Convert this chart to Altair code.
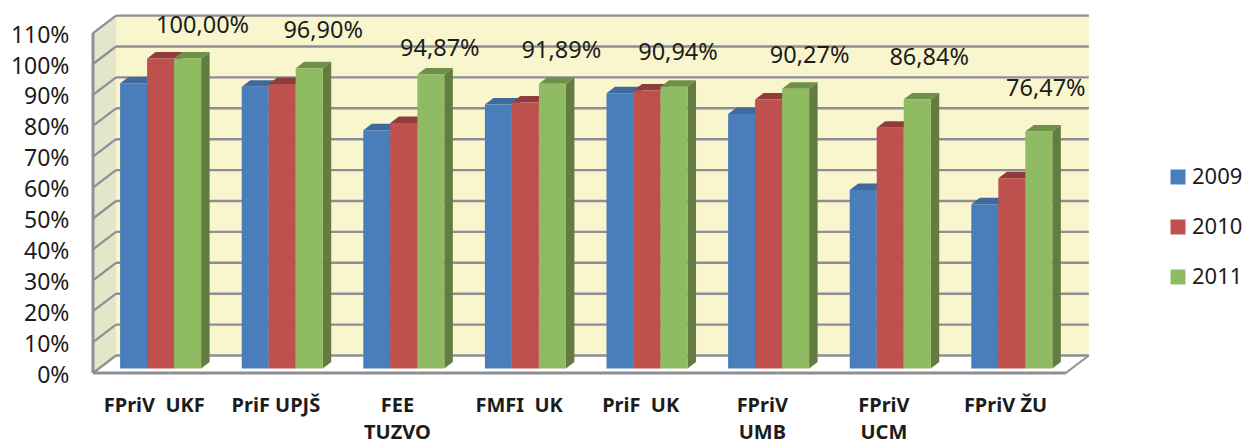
import json
import altair as alt
import pandas as pd

categories = ["FPriV\u00a0 UKF", "PriF UPJŠ", "FEE\nTUZVO", "FMFI\u00a0 UK", "PriF\u00a0 UK", "FPriV\nUMB", "FPriV\nUCM", "FPriV ŽU"]
series_names = ["2009", "2010", "2011"]
v2009 = [92.0, 90.9, 76.9, 85.2, 88.8, 82.1, 57.6, 53.0]
v2010 = [100.0, 91.8, 79.2, 85.8, 89.7, 86.8, 77.7, 61.4]
v2011 = [100.0, 96.9, 94.87, 91.89, 90.94, 90.27, 86.84, 76.47]
y_ticks = list(range(0, 111, 10))
all_series = [v2009, v2010, v2011]

# layout of the pseudo-3D box
PX_X, PX_Y = 121.6, 3.09
W, H = 997, 358
DX, DY = 23 / PX_X, 17.5 / PX_Y         # wall depth in scale units
BAR_W = 27 / PX_X
Z_FRONT, Z_BACK = 0.257, 0.627
GROUP_START = 21.2 / PX_X
N = len(categories)

xs = alt.Scale(domain=[0, W / PX_X], range=[0, W], nice=False, zero=False)
ys = alt.Scale(domain=[0, H / PX_Y], range=[H, 0], nice=False, zero=False)


def px(x, z=0.0):
    return x + z * DX


def py(v, z=0.0):
    return v + z * DY


fronts, sides, tops = [], [], []
for s, (name, vals) in enumerate(zip(series_names, all_series)):
    for i, v in enumerate(vals):
        x0 = i + GROUP_START + s * BAR_W
        x1 = x0 + BAR_W
        key = f"{name}-{i}"
        fronts.append(dict(series=name, x=px(x0, Z_FRONT), x2=px(x1, Z_FRONT), y=py(0, Z_FRONT), y2=py(v * 1.003, Z_FRONT)))
        for z in (Z_FRONT, Z_BACK):
            sides.append(dict(series=name, key=key, x=px(x1, z), y=py(0, z), y2=py(v * 1.003, z)))
            tops.append(dict(series=name, key=key, x=px(x0, z), x2=px(x1, z), y=py(v * 1.003, z)))

fronts, sides, tops = map(pd.DataFrame, (fronts, sides, tops))

label_text = [c.split("\n") for c in categories]
x_axis = alt.Axis(
    values=[i + 0.5 for i in range(N)],
    labelExpr=f"{json.dumps(label_text, ensure_ascii=False)}[floor(datum.value)]",
    grid=False, domain=False, ticks=False, labelPadding=22, labelAngle=0,
    labelFont="Noto Sans", labelFontWeight="bold", labelFontSize=20, labelColor="#1c1c1c",
    labelLineHeight=27, labelBaseline="top", labelOverlap=False, labelFlush=False,
)
y_axis = alt.Axis(
    values=y_ticks, labelExpr="datum.value + '%'", grid=False, domain=False, ticks=False,
    labelPadding=24, labelFont="Noto Sans", labelFontSize=23, labelColor="#1c1c1c",
    labelOverlap=False, labelFlush=False, labelBaseline="middle", labelOffset=2,
)


def X(field="x"):
    return alt.X(field, type="quantitative", scale=xs, axis=x_axis, title=None)


def Y(field="y"):
    return alt.Y(field, type="quantitative", scale=ys, axis=y_axis, title=None)


x2 = alt.X2("x2")
y2 = alt.Y2("y2")

# back wall
back = alt.Chart(pd.DataFrame([dict(x=px(0, 1), x2=px(N, 1), y=py(0, 1), y2=py(110, 1))])).mark_rect(
    color="#F9F6CE"
).encode(x=X(), x2=x2, y=Y(), y2=y2)

# left wall
left = alt.Chart(pd.DataFrame([
    dict(x=px(0, z), y=py(0, z), y2=py(110, z)) for z in (0, 1)
])).mark_area(color="#E3E6C9").encode(x=X(), y=Y(), y2=y2)

# floor
floor = alt.Chart(pd.DataFrame([
    dict(x=px(0, z), x2=px(N, z), y=py(0, z)) for z in (0, 1)
])).mark_area(orient="horizontal", color="#FFFFFF").encode(x=X(), x2=x2, y=Y())

GREY = "#8E8E96"
back_grid = alt.Chart(pd.DataFrame([
    dict(x=px(0, 1), x2=px(N, 1), y=py(v, 1), y2=py(v, 1)) for v in y_ticks
])).mark_rule(color=GREY, strokeWidth=2.4).encode(x=X(), x2=x2, y=Y(), y2=y2)

left_grid = alt.Chart(pd.DataFrame([
    dict(x=px(0, 0), x2=px(0, 1), y=py(v, 0), y2=py(v, 1)) for v in y_ticks
])).mark_rule(color=GREY, strokeWidth=2.2).encode(x=X(), x2=x2, y=Y(), y2=y2)

edges = alt.Chart(pd.DataFrame([
    dict(x=px(0), x2=px(0), y=py(0), y2=py(110), w=3),
    dict(x=px(0), x2=px(N), y=py(0), y2=py(0), w=3),
    dict(x=px(N), x2=px(N, 1), y=py(0), y2=py(0, 1), w=2),
])).mark_rule(color=GREY).encode(
    x=X(), x2=x2, y=Y(), y2=y2,
    strokeWidth=alt.StrokeWidth("w:Q", scale=None, legend=None),
)

front_scale = alt.Scale(domain=series_names, range=["#4A7EBB", "#BE504E", "#8FBC62"])
side_scale = alt.Scale(domain=series_names, range=["#375E8C", "#8B3A38", "#647C40"])
top_scale = alt.Scale(domain=series_names, range=["#3F6A9E", "#8F3C3A", "#6F9048"])

side_layer = alt.Chart(sides).mark_area().encode(
    x=X(), y=Y(), y2=y2, detail="key:N",
    color=alt.Color("series:N", scale=side_scale, legend=None),
)
top_layer = alt.Chart(tops).mark_area(orient="horizontal").encode(
    x=X(), x2=x2, y=Y(), detail="key:N",
    color=alt.Color("series:N", scale=top_scale, legend=None),
)
front_layer = alt.Chart(fronts).mark_rect().encode(
    x=X(), x2=x2, y=Y(), y2=y2,
    color=alt.Color("series:N", scale=front_scale, title=None, legend=alt.Legend(
        orient="none", legendX=1074, legendY=151, symbolType="square", symbolSize=225,
        symbolStrokeWidth=0, labelFont="Noto Sans", labelFontSize=22, labelColor="#1c1c1c",
        rowPadding=28, labelOffset=3, symbolOpacity=1,
    )),
)

# value labels sit freely above the 2011 bars, each nudged by hand in the original
lift_px = [34, 37.6, 26, 34, 34, 34, 42, 43]
shift_px = [15, 14, 9, 9, 4, 14, 12, 7]
labels = pd.DataFrame([
    dict(
        x=px(i + GROUP_START + 2.5 * BAR_W, Z_FRONT) + shift_px[i] / PX_X,
        y=py(v, Z_FRONT) + lift_px[i] / PX_Y,
        text=f"{v:.2f}%".replace(".", ","),
    )
    for i, v in enumerate(v2011)
])
label_layer = alt.Chart(labels).mark_text(
    font="Noto Sans", fontSize=23.5, color="#1c1c1c", baseline="middle", align="center"
).encode(x=X(), y=Y(), text="text:N")

chart = alt.layer(
    back, left, floor, back_grid, left_grid, edges, side_layer, top_layer, front_layer, label_layer
).resolve_scale(color="independent").properties(
    width=W, height=H,
    padding={"left": 85, "top": 7, "right": 157, "bottom": 72},
    autosize=alt.AutoSizeParams(type="none"),
).configure_view(stroke=None)

chart.save("out.html", embed_options={"renderer": "svg", "actions": False})
